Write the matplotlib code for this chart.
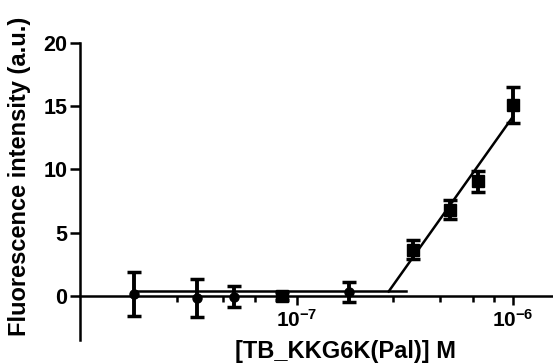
import numpy as np
import matplotlib
matplotlib.use('Agg')
import matplotlib.pyplot as plt
from matplotlib.ticker import FixedLocator, FuncFormatter

plt.rcParams['font.family'] = ['Liberation Sans', 'DejaVu Sans']
plt.rcParams['font.weight'] = 'bold'
plt.rcParams['mathtext.fontset'] = 'custom'
plt.rcParams['mathtext.rm'] = 'Liberation Sans:bold'
plt.rcParams['mathtext.bf'] = 'Liberation Sans:bold'

# concentration (M), mean intensity, error
conc = [1.78e-8, 3.48e-8, 5.16e-8, 8.6e-8, 1.74e-7, 3.44e-7, 5.1e-7, 6.88e-7, 1.0e-6]
intensity = [0.15, -0.15, -0.08, 0.0, 0.3, 3.65, 6.8, 9.05, 15.1]
error = [1.75, 1.5, 0.83, 0.3, 0.8, 0.75, 0.75, 0.8, 1.45]
markers = ['o', 'o', 'o', 's', 'o', 's', 's', 's', 's']

# two-segment fit: flat baseline, then linear in log(conc)
n_base = 5
baseline_level = 0.34
baseline_end = 3.2e-7

x_major = [1e-7, 1e-6]
x_minor = [2.8e-8, 4.6e-8, 6.4e-8, 2.8e-7, 4.6e-7, 6.5e-7, 8.2e-7]
y_ticks = [0, 5, 10, 15, 20]

fig = plt.figure(figsize=(5.53, 3.63), dpi=100)
ax = fig.add_axes([80 / 553, 23 / 363, 473 / 553, 297 / 363])

for xi, yi, ei, m in zip(conc, intensity, error, markers):
    ax.errorbar(xi, yi, yerr=ei, fmt=m, color='black',
                markersize=8 if m == 's' else 6.5,
                elinewidth=2.8, capsize=5, capthick=2.5, zorder=3)

# baseline fit
ax.plot([conc[0], baseline_end], [baseline_level, baseline_level],
        color='black', lw=1.8, zorder=2)

# rising fit
lx = np.log10(conc[n_base:])
slope, icpt = np.polyfit(lx, intensity[n_base:], 1)
x_start = (baseline_level - icpt) / slope
xs = np.array([x_start, np.log10(conc[-1])])
ax.plot(10 ** xs, slope * xs + icpt, color='black', lw=1.8, zorder=2)

ax.set_xscale('log')
ax.set_xlim(1e-8, 1.53e-6)
ax.set_ylim(-3.5, 20)

ax.spines['top'].set_visible(False)
ax.spines['right'].set_visible(False)
ax.spines['bottom'].set_position(('data', 0))
ax.spines['left'].set_linewidth(1.8)
ax.spines['bottom'].set_linewidth(1.8)

ax.yaxis.set_major_locator(FixedLocator(y_ticks))
ax.xaxis.set_major_locator(FixedLocator(x_major))
ax.xaxis.set_minor_locator(FixedLocator(x_minor))
ax.xaxis.set_minor_formatter(FuncFormatter(lambda v, p: ''))
ax.xaxis.set_major_formatter(FuncFormatter(
    lambda v, p: r'$\mathbf{10^{%d}}$' % int(round(np.log10(v)))))

ax.tick_params(axis='y', length=7, width=1.8, labelsize=15.5, pad=2)
ax.tick_params(axis='x', which='major', length=6.5, width=1.8, labelsize=15, pad=3)
ax.tick_params(axis='x', which='minor', length=4.3, width=1.8)
for lab in ax.get_yticklabels():
    lab.set_fontweight('bold')

ax.set_ylabel('Fluorescence intensity (a.u.)', fontsize=17, fontweight='bold',
              va='center')
ax.yaxis.set_label_coords(-0.127, 0.552)
ax.set_xlabel('[TB_KKG6K(Pal)] M', fontsize=17, fontweight='bold', va='center')
ax.xaxis.set_label_coords(0.562, -0.04)

fig.savefig('out.png', dpi=100)
